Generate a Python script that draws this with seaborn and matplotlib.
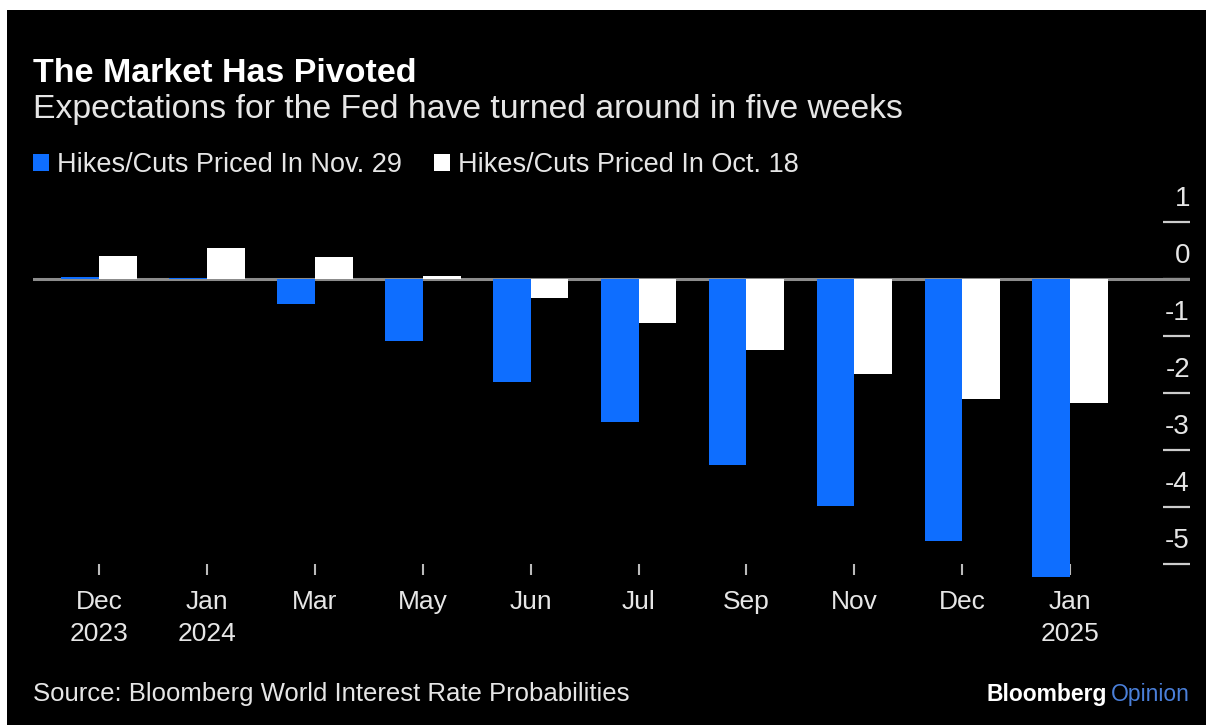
import matplotlib
matplotlib.use("Agg")
import matplotlib.pyplot as plt
import pandas as pd
import seaborn as sns
from matplotlib.patches import Patch, Rectangle

# ---- data ----
months = ["Dec\n2023", "Jan\n2024", "Mar", "May", "Jun", "Jul", "Sep", "Nov", "Dec", "Jan\n2025"]
nov29 = [0.03, 0.02, -0.44, -1.09, -1.81, -2.50, -3.27, -3.98, -4.60, -5.22]
oct18 = [0.41, 0.55, 0.39, 0.06, -0.33, -0.77, -1.24, -1.67, -2.11, -2.17]
series_names = ["Hikes/Cuts Priced In Nov. 29", "Hikes/Cuts Priced In Oct. 18"]
yticks = [1, 0, -1, -2, -3, -4, -5]

title = "The Market Has Pivoted"
subtitle = "Expectations for the Fed have turned around in five weeks"
source = "Source: Bloomberg World Interest Rate Probabilities"

BLUE = "#0E6EFF"
WHITE = "#FFFFFF"
TXT = "#E6E6E6"

df = pd.DataFrame({
    "month": months * 2,
    "value": nov29 + oct18,
    "series": [series_names[0]] * len(months) + [series_names[1]] * len(months),
})

plt.rcParams["font.family"] = ["Liberation Sans", "DejaVu Sans"]

W, H = 1206, 725
fig = plt.figure(figsize=(W / 100, H / 100), dpi=100, facecolor="black")

# white border strips (top / left) as in the reference
fig.patches.append(Rectangle((0, 1 - 10 / H), 1, 10 / H, transform=fig.transFigure,
                             facecolor="white", edgecolor="none"))
fig.patches.append(Rectangle((0, 0), 7 / W, 1, transform=fig.transFigure,
                             facecolor="white", edgecolor="none"))

ax_left, ax_right, ax_top, ax_bottom = 33, 1190, 215, 575
ax = fig.add_axes([ax_left / W, (H - ax_bottom) / H, (ax_right - ax_left) / W, (ax_bottom - ax_top) / H])
ax.set_facecolor("black")

sns.barplot(data=df, x="month", y="value", hue="series", order=months,
            hue_order=series_names, palette=[BLUE, WHITE], width=0.7,
            saturation=1, linewidth=0, errorbar=None, legend=False, ax=ax)
for p in ax.patches:
    p.set_clip_on(False)
    p.set_zorder(2)

ax.axhline(0, color="#8C8C8C", lw=2.2, zorder=1)

ax.set_xlim(-0.612, 10.11)
ax.set_ylim(-(ax_bottom - 279) / 57.0, (279 - ax_top) / 57.0)
ax.set_axisbelow(True)
for s in ax.spines.values():
    s.set_visible(False)
ax.set_xlabel("")
ax.set_ylabel("")

# x axis
ax.tick_params(axis="x", direction="in", length=8, width=1.5, color="#BBBBBB",
               labelcolor=TXT, labelsize=19, pad=11)
for lab in ax.get_xticklabels():
    lab.set_linespacing(1.42)

# y axis: ticks on right, labels sit above tick marks
ax.yaxis.tick_right()
ax.set_yticks(yticks)
ax.tick_params(axis="y", direction="in", length=19.5, width=1.6, color="#CCCCCC",
               labelright=False, labelleft=False)
for v in yticks:
    ax.annotate(str(v), xy=(1, v), xycoords=("axes fraction", "data"),
                xytext=(0, 7), textcoords="offset points", ha="right", va="bottom",
                color=TXT, fontsize=20)

# titles
fig.text(33 / W, 1 - 82 / H, title, color="white", fontsize=24.5, fontweight="bold",
         ha="left", va="baseline")
fig.text(33 / W, 1 - 118 / H, subtitle, color=TXT, fontsize=24.3,
         ha="left", va="baseline")

# legend
handles = [Patch(facecolor=BLUE, edgecolor="none", label=series_names[0]),
           Patch(facecolor=WHITE, edgecolor="none", label=series_names[1])]
leg = fig.legend(handles=handles, loc="center left", bbox_to_anchor=(33 / W, 1 - 165 / H),
                 ncol=2, frameon=False, fontsize=19.5, handlelength=0.58, handleheight=0.58,
                 handletextpad=0.3, columnspacing=1.2, borderpad=0, borderaxespad=0)
for t in leg.get_texts():
    t.set_color(TXT)

# footer
fig.text(33 / W, 1 - 701 / H, source, color=TXT, fontsize=18.5, ha="left", va="baseline")
t2 = fig.text(1190 / W, 1 - 701 / H, "Opinion", color="#4A7FD9", fontsize=16.5,
              ha="right", va="baseline")
fig.canvas.draw()
bb = t2.get_window_extent()
fig.text((bb.x0 - 4) / W, 1 - 701 / H, "Bloomberg", color="white", fontsize=16.5,
         fontweight="bold", ha="right", va="baseline")

fig.savefig("out.png", dpi=100, facecolor="black")
